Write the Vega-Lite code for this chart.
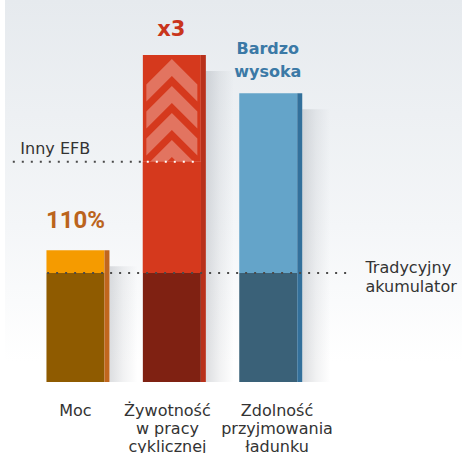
{
  "$schema": "https://vega.github.io/schema/vega-lite/v6.json",
  "width": 467,
  "height": 453,
  "autosize": {"type": "none"},
  "padding": 0,
  "background": "#ffffff",
  "config": {"view": {"stroke": null}},
  "datasets": {
    "bars": [
      {"pos": 1, "part": "moc_base", "lo": 0, "hi": 100},
      {"pos": 1, "part": "moc_top", "lo": 100, "hi": 121},
      {"pos": 2, "part": "zyw_base", "lo": 0, "hi": 100},
      {"pos": 2, "part": "zyw_mid", "lo": 100, "hi": 202},
      {"pos": 2, "part": "zyw_top", "lo": 202, "hi": 300},
      {"pos": 3, "part": "zdol_base", "lo": 0, "hi": 100},
      {"pos": 3, "part": "zdol_top", "lo": 100, "hi": 265}
    ],
    "sides": [
      {"pos": 1, "part": "moc_side", "hi": 121},
      {"pos": 2, "part": "zyw_side", "hi": 300},
      {"pos": 3, "part": "zdol_side", "hi": 265}
    ],
    "chev": [
      {"pos": 2, "c": 272.9},
      {"pos": 2, "c": 248.2},
      {"pos": 2, "c": 223.4},
      {"pos": 2, "c": 198.6}
    ]
  },
  "layer": [
    {
      "data": {"values": [{}]},
      "mark": {"type": "rect", "color": {"gradient": "linear", "x1": 0, "y1": 0, "x2": 0, "y2": 1, "stops": [{"offset": 0, "color": "#e6eaee"}, {"offset": 0.5, "color": "#f4f6f8"}, {"offset": 0.8, "color": "#ffffff"}]}},
      "encoding": {
        "x": {"datum": 0.269, "type": "quantitative", "scale": {"domain": [0.269, 5.01], "nice": false, "zero": false}, "axis": null},
        "x2": {"datum": 5.01},
        "y": {"datum": 350.5, "type": "quantitative", "scale": {"domain": [-65.1, 350.5], "nice": false, "zero": false}, "axis": null},
        "y2": {"datum": -65.1}
      }
    },
    {
      "data": {"name": "sides"},
      "mark": {"type": "bar", "width": 28, "xOffset": 48, "yOffset": 16, "color": {"gradient": "linear", "x1": 0, "y1": 0, "x2": 1, "y2": 0, "stops": [{"offset": 0, "color": "rgba(120,126,136,0.26)"}, {"offset": 0.5, "color": "rgba(120,126,136,0.1)"}, {"offset": 1, "color": "rgba(120,126,136,0)"}]}},
      "encoding": {
        "x": {"field": "pos", "type": "quantitative", "scale": {"domain": [0.269, 5.01], "nice": false, "zero": false}, "axis": null},
        "y": {"field": "hi", "type": "quantitative", "scale": {"domain": [-65.1, 350.5], "nice": false, "zero": false}, "axis": null},
        "y2": {"datum": 0}
      }
    },
    {
      "data": {"name": "bars"},
      "mark": {"type": "bar", "width": 58},
      "encoding": {
        "x": {"field": "pos", "type": "quantitative", "scale": {"domain": [0.269, 5.01], "nice": false, "zero": false}, "axis": null},
        "y": {"field": "hi", "type": "quantitative", "scale": {"domain": [-65.1, 350.5], "nice": false, "zero": false}, "axis": null},
        "y2": {"field": "lo"},
        "color": {"field": "part", "type": "nominal", "legend": null, "scale": {"domain": ["moc_base", "moc_top", "zyw_base", "zyw_mid", "zyw_top", "zdol_base", "zdol_top", "moc_side", "zyw_side", "zdol_side"], "range": ["#8f5b00", "#f59b00", "#7f2112", "#d5391d", "#d5391d", "#3a6178", "#64a4c9", "#c1661d", "#b8311b", "#33709b"]}}
      }
    },
    {
      "data": {"name": "sides"},
      "mark": {"type": "bar", "width": 5, "xOffset": 31.5},
      "encoding": {
        "x": {"field": "pos", "type": "quantitative", "scale": {"domain": [0.269, 5.01], "nice": false, "zero": false}, "axis": null},
        "y": {"field": "hi", "type": "quantitative", "scale": {"domain": [-65.1, 350.5], "nice": false, "zero": false}, "axis": null},
        "y2": {"datum": 0},
        "color": {"field": "part", "type": "nominal", "legend": null, "scale": {"domain": ["moc_base", "moc_top", "zyw_base", "zyw_mid", "zyw_top", "zdol_base", "zdol_top", "moc_side", "zyw_side", "zdol_side"], "range": ["#8f5b00", "#f59b00", "#7f2112", "#d5391d", "#d5391d", "#3a6178", "#64a4c9", "#c1661d", "#b8311b", "#33709b"]}}
      }
    },
    {
      "data": {"name": "chev"},
      "mark": {"type": "point", "shape": "M-1,0L0,-1L1,0L1,0.667L0,-0.333L-1,0.667Z", "size": 2601, "filled": true, "opacity": 1, "color": "#e27460", "strokeWidth": 0},
      "encoding": {
        "x": {"field": "pos", "type": "quantitative", "scale": {"domain": [0.269, 5.01], "nice": false, "zero": false}, "axis": null},
        "y": {"field": "c", "type": "quantitative", "scale": {"domain": [-65.1, 350.5], "nice": false, "zero": false}, "axis": null}
      }
    },
    {
      "data": {"name": "bars"},
      "transform": [{"filter": "datum.part == 'zyw_mid'"}],
      "mark": {"type": "bar", "width": 58},
      "encoding": {
        "x": {"field": "pos", "type": "quantitative", "scale": {"domain": [0.269, 5.01], "nice": false, "zero": false}, "axis": null},
        "y": {"field": "hi", "type": "quantitative", "scale": {"domain": [-65.1, 350.5], "nice": false, "zero": false}, "axis": null},
        "y2": {"field": "lo"},
        "color": {"field": "part", "type": "nominal", "legend": null, "scale": {"domain": ["moc_base", "moc_top", "zyw_base", "zyw_mid", "zyw_top", "zdol_base", "zdol_top", "moc_side", "zyw_side", "zdol_side"], "range": ["#8f5b00", "#f59b00", "#7f2112", "#d5391d", "#d5391d", "#3a6178", "#64a4c9", "#c1661d", "#b8311b", "#33709b"]}}
      }
    },
    {
      "data": {"values": [{"a": 0.35, "b": 1.71, "v": 202}, {"a": 0.706, "b": 3.853, "v": 100}]},
      "mark": {"type": "rule", "color": "#4a4a4a", "strokeWidth": 2, "strokeDash": [2, 7]},
      "encoding": {
        "x": {"field": "a", "type": "quantitative", "scale": {"domain": [0.269, 5.01], "nice": false, "zero": false}, "axis": null},
        "x2": {"field": "b"},
        "y": {"field": "v", "type": "quantitative", "scale": {"domain": [-65.1, 350.5], "nice": false, "zero": false}, "axis": null}
      }
    },
    {
      "data": {"values": [{"a": 1.74, "b": 2.27, "v": 202}]},
      "mark": {"type": "rule", "color": "#ffffff", "strokeWidth": 2, "strokeDash": [2, 7]},
      "encoding": {
        "x": {"field": "a", "type": "quantitative", "scale": {"domain": [0.269, 5.01], "nice": false, "zero": false}, "axis": null},
        "x2": {"field": "b"},
        "y": {"field": "v", "type": "quantitative", "scale": {"domain": [-65.1, 350.5], "nice": false, "zero": false}, "axis": null}
      }
    },
    {
      "data": {"values": [
        {"tx": 1.0, "ty": -30.9, "t": "Moc"},
        {"tx": 1.954, "ty": -30.9, "t": "Żywotność\nw pracy\ncyklicznej"},
        {"tx": 3.091, "ty": -30.9, "t": "Zdolność\nprzyjmowania\nładunku"}
      ]},
      "mark": {"type": "text", "font": "DejaVu Sans", "fontSize": 16, "color": "#333333", "align": "center", "baseline": "alphabetic", "lineBreak": "\n", "lineHeight": 18},
      "encoding": {
        "x": {"field": "tx", "type": "quantitative", "scale": {"domain": [0.269, 5.01], "nice": false, "zero": false}, "axis": null},
        "y": {"field": "ty", "type": "quantitative", "scale": {"domain": [-65.1, 350.5], "nice": false, "zero": false}, "axis": null},
        "text": {"field": "t"}
      }
    },
    {
      "data": {"values": [
        {"tx": 0.428, "ty": 209.2, "t": "Inny EFB"},
        {"tx": 4.008, "ty": 99.7, "t": "Tradycyjny\nakumulator"}
      ]},
      "mark": {"type": "text", "font": "DejaVu Sans", "fontSize": 16, "color": "#333333", "align": "left", "baseline": "alphabetic", "lineBreak": "\n", "lineHeight": 18.5},
      "encoding": {
        "x": {"field": "tx", "type": "quantitative", "scale": {"domain": [0.269, 5.01], "nice": false, "zero": false}, "axis": null},
        "y": {"field": "ty", "type": "quantitative", "scale": {"domain": [-65.1, 350.5], "nice": false, "zero": false}, "axis": null},
        "text": {"field": "t"}
      }
    },
    {
      "data": {"values": [{"tx": 1.995, "ty": 317.7, "t": "x3"}]},
      "mark": {"type": "text", "font": "DejaVu Sans", "fontWeight": "bold", "fontSize": 21, "color": "#c9351b", "align": "center", "baseline": "alphabetic"},
      "encoding": {
        "x": {"field": "tx", "type": "quantitative", "scale": {"domain": [0.269, 5.01], "nice": false, "zero": false}, "axis": null},
        "y": {"field": "ty", "type": "quantitative", "scale": {"domain": [-65.1, 350.5], "nice": false, "zero": false}, "axis": null},
        "text": {"field": "t"}
      }
    },
    {
      "data": {"values": [{"tx": 2.995, "ty": 300.6, "t": "Bardzo\nwysoka"}]},
      "mark": {"type": "text", "font": "DejaVu Sans", "fontWeight": "bold", "fontSize": 16, "color": "#3b79a6", "align": "center", "baseline": "alphabetic", "lineBreak": "\n", "lineHeight": 23},
      "encoding": {
        "x": {"field": "tx", "type": "quantitative", "scale": {"domain": [0.269, 5.01], "nice": false, "zero": false}, "axis": null},
        "y": {"field": "ty", "type": "quantitative", "scale": {"domain": [-65.1, 350.5], "nice": false, "zero": false}, "axis": null},
        "text": {"field": "t"}
      }
    },
    {
      "data": {"values": [{"tx": 1.0, "ty": 141.0, "t": "110%"}]},
      "mark": {"type": "text", "font": "Roboto", "fontWeight": "bold", "fontSize": 24, "color": "#bb641c", "align": "center", "baseline": "alphabetic"},
      "encoding": {
        "x": {"field": "tx", "type": "quantitative", "scale": {"domain": [0.269, 5.01], "nice": false, "zero": false}, "axis": null},
        "y": {"field": "ty", "type": "quantitative", "scale": {"domain": [-65.1, 350.5], "nice": false, "zero": false}, "axis": null},
        "text": {"field": "t"}
      }
    }
  ]
}
